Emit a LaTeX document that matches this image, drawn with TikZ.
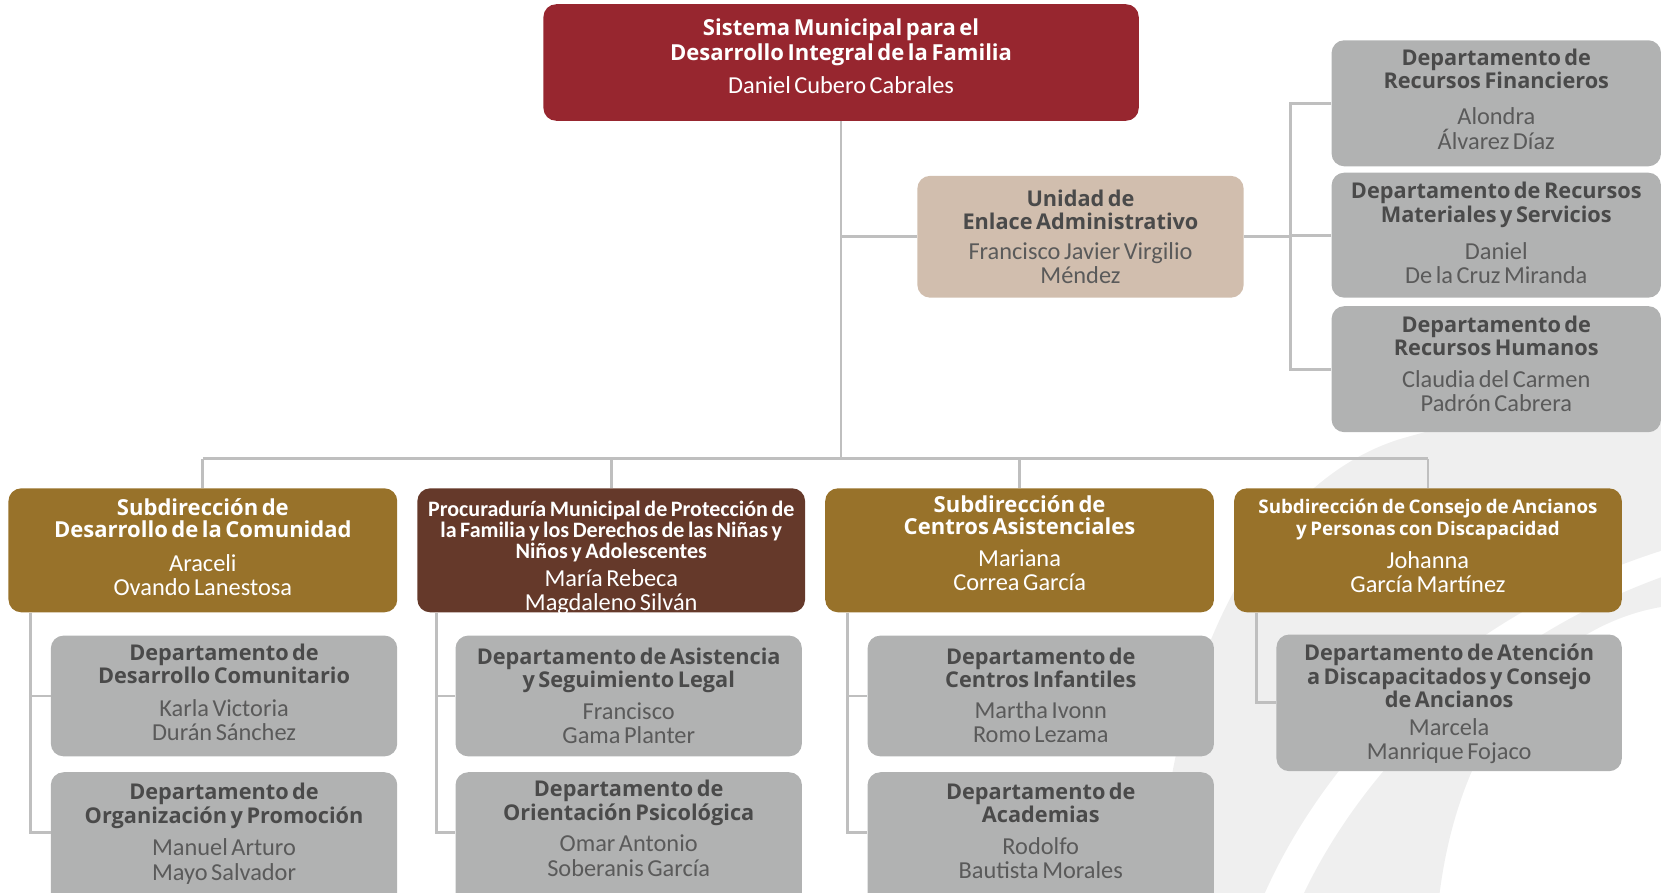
\documentclass[tikz,border=0pt]{standalone}
\usepackage{fontspec}
\setmainfont{Carlito}
\newfontfamily\tf{Open Sans}
\definecolor{topred}{HTML}{97262F}
\definecolor{tan}{HTML}{D1BEAE}
\definecolor{boxgray}{HTML}{B1B2B2}
\definecolor{gold}{HTML}{98722A}
\definecolor{brown}{HTML}{65392A}
\definecolor{txtgray}{HTML}{4A4A4A}
\definecolor{namegray}{HTML}{5A5A5A}
\definecolor{linegray}{HTML}{BFBFBF}
\definecolor{swoosh}{HTML}{EFEFEF}
% #1 title font, #2 title, #3 gap, #4 name font, #5 name, #6 bottom pad
\newcommand\entry[6]{{#1#2\par}\vspace{#3}{#4#5\par}\vspace{#6}}
\newcommand\tTop{\tf\bfseries\fontsize{20.8}{24}\selectfont}
\newcommand\nTop{\fontsize{23}{24}\selectfont}
\newcommand\tDep{\tf\bfseries\fontsize{20.5}{22}\selectfont}
\newcommand\nDep{\fontsize{23}{23}\selectfont}
\newcommand\tSub{\tf\bfseries\fontsize{20.8}{21}\selectfont}
\newcommand\tPro{\bfseries\fontsize{20.8}{20}\selectfont}
\newcommand\tSubB{\tf\bfseries\fontsize{17.7}{20}\selectfont}
\newcommand\ob[7]{%
  \pgfmathsetlengthmacro\obtw{(#5-#3-6)*1pt}%
  \node[orgbox,#2,minimum width={(#5-#3)*1pt},minimum height={(#6-#4)*1pt},text width=\obtw]
    (#1) at ({(#3+#5)/2},{(#4+#6)/2}) {#7};}
\tikzset{
  orgbox/.style={rounded corners=12pt, inner sep=0pt, align=center, draw=none},
  redbox/.style={fill=topred, text=white},
  tanbox/.style={fill=tan, text=txtgray},
  graybox/.style={fill=boxgray, text=txtgray},
  goldbox/.style={fill=gold, text=white},
  brownbox/.style={fill=brown, text=white},
  conn/.style={draw=linegray, line width=2.6pt}
}
\begin{document}
\begin{tikzpicture}[x=1pt,y=-1pt]
\useasboundingbox (0,0) rectangle (1568,843);
% background swoosh
\fill[swoosh] (1095,843) .. controls (1100,650) and (1180,460) .. (1320,415)
  .. controls (1420,385) and (1500,385) .. (1568,390) -- (1568,520)
  .. controls (1350,590) and (1240,740) .. (1194,843) -- cycle;
\fill[swoosh] (1231,843) .. controls (1280,740) and (1390,610) .. (1568,545)
  -- (1568,573) .. controls (1470,590) and (1380,680) .. (1359,843) -- cycle;
% boxes
\ob{top}{redbox}{513}{4}{1075}{114}{\entry{\tTop}{Sistema Municipal para el\\Desarrollo Integral de la Familia}{7pt}{\nTop}{Daniel Cubero Cabrales}{12pt}}
\ob{un}{tanbox}{866}{166}{1174}{281}{\entry{\tDep}{Unidad de\\Enlace Administrativo}{5pt}{\nDep\color{namegray}}{Francisco Javier Virgilio\\Méndez}{0pt}}
\ob{rf}{graybox}{1257}{38}{1568}{157}{\entry{\tDep}{Departamento de\\Recursos Financieros}{11pt}{\nDep\color{namegray}}{Alondra\\Álvarez Díaz}{8pt}}
\ob{rm}{graybox}{1257}{163}{1568}{281}{\entry{\tDep}{Departamento de Recursos\\Materiales y Servicios}{12pt}{\nDep\color{namegray}}{Daniel\\De la Cruz Miranda}{4pt}}
\ob{rh}{graybox}{1257}{289}{1568}{408}{\entry{\tDep}{Departamento de\\Recursos Humanos}{7pt}{\nDep\color{namegray}}{Claudia del Carmen\\Padrón Cabrera}{10pt}}
% subdirections
\ob{s1}{goldbox}{8}{461}{375}{578}{\entry{\tSub}{Subdirección de\\Desarrollo de la Comunidad}{9pt}{\nDep}{Araceli\\Ovando Lanestosa}{6pt}}
\ob{s2}{brownbox}{394}{461}{760}{578}{\entry{\tPro}{Procuraduría Municipal de Protección de\\la Familia y los Derechos de las Niñas y\\Niños y Adolescentes}{3pt}{\nDep}{María Rebeca\\Magdaleno Silván}{-14pt}}
\ob{s3}{goldbox}{779}{461}{1146}{578}{\entry{\tSub}{Subdirección de\\Centros Asistenciales}{7pt}{\nDep}{Mariana\\Correa García}{14pt}}
\ob{s4}{goldbox}{1165}{461}{1531}{578}{\entry{\tSubB}{Subdirección de Consejo de Ancianos\\y Personas con Discapacidad}{8pt}{\nDep}{Johanna\\García Martínez}{8pt}}
% departments
\ob{d11}{graybox}{48}{600}{375}{714}{\entry{\tDep}{Departamento de\\Desarrollo Comunitario}{8pt}{\nDep\color{namegray}}{Karla Victoria\\Durán Sánchez}{7pt}}
\ob{d12}{graybox}{48}{729}{375}{855}{\entry{\tDep}{Departamento de\\Organización y Promoción}{8pt}{\nDep\color{namegray}}{Manuel Arturo\\Mayo Salvador}{10pt}}
\ob{d21}{graybox}{430}{600}{757}{714}{\entry{\tDep}{Departamento de Asistencia\\y Seguimiento Legal}{7pt}{\nDep\color{namegray}}{Francisco\\Gama Planter}{0pt}}
\ob{d22}{graybox}{430}{729}{757}{855}{\entry{\tDep}{Departamento de\\Orientación Psicológica}{7pt}{\nDep\color{namegray}}{Omar Antonio\\Soberanis García}{20pt}}
\ob{d31}{graybox}{819}{600}{1146}{714}{\entry{\tDep}{Departamento de\\Centros Infantiles}{6pt}{\nDep\color{namegray}}{Martha Ivonn\\Romo Lezama}{1pt}}
\ob{d32}{graybox}{819}{729}{1146}{855}{\entry{\tDep}{Departamento de\\Academias}{7pt}{\nDep\color{namegray}}{Rodolfo\\Bautista Morales}{15pt}}
\ob{d41}{graybox}{1205}{599}{1531}{728}{\entry{\tDep}{Departamento de Atención\\a Discapacitados y Consejo\\de Ancianos}{3pt}{\nDep\color{namegray}}{Marcela\\Manrique Fojaco}{-2pt}}
% connectors
\coordinate (busL) at (191.5,433);
\coordinate (busR) at (1348,433);
\coordinate (rj) at (1218,223);
\draw[conn] (top.south) -- (top.south |- busL);
\draw[conn] (busL) -- (busR);
\foreach \s in {s1,s2,s3,s4} \draw[conn] (\s.north) -- (\s.north |- busL);
\draw[conn] (un.west) -- (un.west -| top.south);
\draw[conn] (un.east) -- (un.east -| rj);
\draw[conn] (rf.west) -- (rf.west -| rj) -- (rh.west -| rj) -- (rh.west);
\draw[conn] (rm.west) -- (rm.west -| rj);
\draw[conn] ([xshift=21pt]s1.south west) |- (d11.west);
\draw[conn] ([xshift=21pt]s1.south west) |- ([yshift=6pt]d12.west);
\draw[conn] ([xshift=18pt]s2.south west) |- (d21.west);
\draw[conn] ([xshift=18pt]s2.south west) |- ([yshift=6pt]d22.west);
\draw[conn] ([xshift=21pt]s3.south west) |- (d31.west);
\draw[conn] ([xshift=21pt]s3.south west) |- ([yshift=6pt]d32.west);
\draw[conn] ([xshift=21pt]s4.south west) |- (d41.west);
\end{tikzpicture}
\end{document}
